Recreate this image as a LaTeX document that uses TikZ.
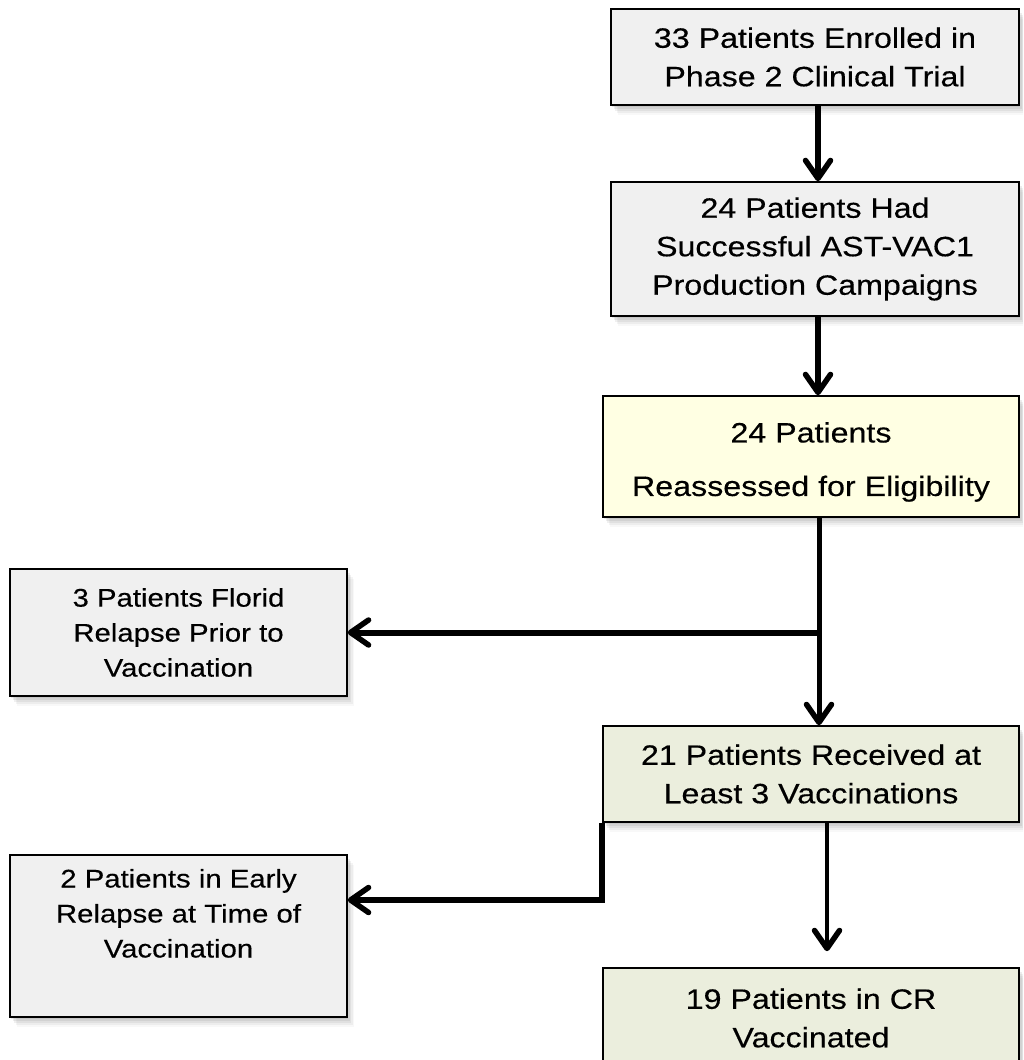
\documentclass[tikz,border=0pt]{standalone}
\usepackage{fontspec}
\setmainfont{Liberation Sans}[FakeStretch=1.15,FakeBold=0.35]
\usetikzlibrary{shadows,arrows.meta}
\definecolor{boxgray}{HTML}{F0F0F0}
\definecolor{boxyellow}{HTML}{FFFFE3}
\definecolor{boxgreen}{HTML}{EBEEDD}
\tikzset{
  softshadow/.style={
    drop shadow={shadow xshift=1pt, shadow yshift=-1.5pt, opacity=0.16},
    drop shadow={shadow xshift=2.5pt, shadow yshift=-3.5pt, opacity=0.14},
    drop shadow={shadow xshift=4pt, shadow yshift=-5.5pt, opacity=0.12},
    drop shadow={shadow xshift=5.5pt, shadow yshift=-7.5pt, opacity=0.09},
    drop shadow={shadow xshift=7pt, shadow yshift=-9.5pt, opacity=0.06}},
  flowbox/.style={draw=black, line width=1.6pt, align=center, inner sep=0pt, softshadow},
  rbox/.style={flowbox, font=\fontsize{28}{38.5}\selectfont},
  lbox/.style={flowbox, font=\fontsize{25.5}{35}\selectfont, fill=boxgray},
  flowarrow/.style={line width=5.5pt, -{Straight Barb[length=18pt,width=25pt,line width=5.5pt,round]}},
}
\begin{document}
\begin{tikzpicture}[x=1pt,y=1pt]
\useasboundingbox (0,0) rectangle (1023,-1060);
\begin{scope}
\clip (0,0) rectangle (1023,-1060);
\node[rbox, fill=boxgray, minimum width=408pt, minimum height=96pt] (b1) at (815,-57)
  {33 Patients Enrolled in\\Phase 2 Clinical Trial};
\node[rbox, fill=boxgray, minimum width=408pt, minimum height=134pt] (b2) at (815,-249)
  {24 Patients Had\\Successful AST-VAC1\\Production Campaigns};
\node[rbox, fill=boxyellow, minimum width=416pt, minimum height=121pt] (b3) at (811,-456.5)
  {\raisebox{-5pt}[\height][\depth]{\begin{tabular}{@{}c@{}}24 Patients\\[15pt]Reassessed for Eligibility\end{tabular}}};
\node[lbox, minimum width=337pt, minimum height=127pt] (florid) at (178.5,-632.5)
  {3 Patients Florid\\Relapse Prior to\\Vaccination};
\node[rbox, fill=boxgreen, minimum width=416pt, minimum height=96pt] (g1) at (811,-774)
  {21 Patients Received at\\Least 3 Vaccinations};
\node[lbox, minimum width=337pt, minimum height=162pt] (early) at (178.5,-936)
  {2 Patients in Early\\Relapse at Time of\\Vaccination\\\strut};
\node[rbox, fill=boxgreen, minimum width=416pt, minimum height=100pt] (g2) at (811,-1018)
  {19 Patients in CR\\Vaccinated};

\draw[flowarrow] ([xshift=3pt]b1.south) -- ([xshift=3pt]b2.north);
\draw[flowarrow] ([xshift=3pt]b2.south) -- ([xshift=7pt]b3.north);
\draw[flowarrow, line width=5pt] ([xshift=8pt]b3.south) -- ([xshift=8pt]g1.north);
\coordinate (j1) at ([xshift=8pt]b3.south |- florid.east);
\draw[flowarrow, line width=6pt] ([xshift=2.5pt]j1) -- (florid.east);
\draw[flowarrow] (g1.south west) |- ([yshift=36pt]early.east);
\coordinate (e6) at ([xshift=16pt,yshift=16pt]g2.north);
\draw[flowarrow, line width=4.5pt] ([xshift=16pt]g1.south) -- (e6);
\end{scope}
\end{tikzpicture}
\end{document}
